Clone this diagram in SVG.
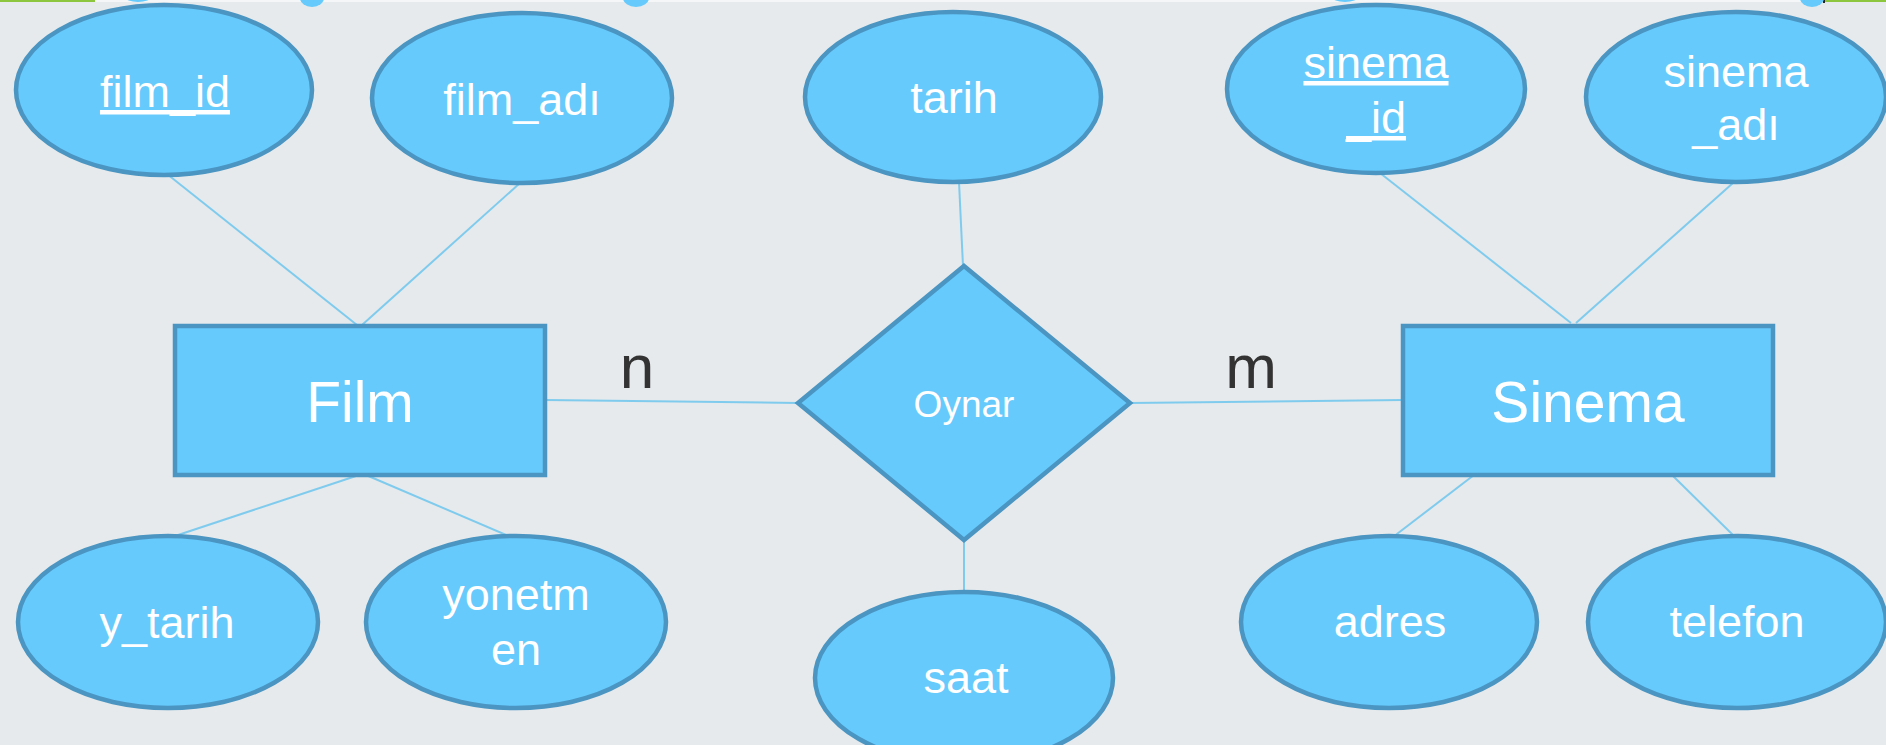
<svg xmlns="http://www.w3.org/2000/svg" width="1886" height="745" viewBox="0 0 1886 745">
  <style>
    .bg { fill: #E6EAEC; }
    .shape { fill: #66CAFC; stroke: #4A95C2; stroke-width: 4.5; }
    .blob { fill: #66CAFC; }
    .link { stroke: #7FCBEE; stroke-width: 2; fill: none; }
    .attr { font-family: "Liberation Sans", Arial, sans-serif; font-size: 45px; fill: #FFFFFF; text-anchor: middle; }
    .key { text-decoration: underline; }
    .entity { font-family: "Liberation Sans", Arial, sans-serif; font-size: 57px; fill: #FFFFFF; text-anchor: middle; }
    .rel { font-family: "Liberation Sans", Arial, sans-serif; font-size: 37px; fill: #FFFFFF; text-anchor: middle; }
    .card { font-family: "Liberation Sans", Arial, sans-serif; font-size: 62px; fill: #333333; text-anchor: middle; }
  </style>

  <!-- background -->
  <rect class="bg" x="0" y="0" width="1886" height="745"/>
  <rect x="0" y="0" width="1886" height="2" fill="#F4F6F7"/>
  <rect x="0" y="0" width="95" height="2" fill="#8CC63F"/>
  <rect x="1824" y="0" width="62" height="2" fill="#8CC63F"/>
  <rect x="1823" y="0" width="2" height="3" fill="#222222"/>

  <!-- shapes cut off at the top edge -->
  <g id="top-edge">
    <ellipse class="blob" cx="138" cy="-3" rx="13" ry="5"/>
    <ellipse class="blob" cx="312" cy="-2" rx="12" ry="9"/>
    <ellipse class="blob" cx="636" cy="-2" rx="13" ry="9"/>
    <ellipse class="blob" cx="1345" cy="-3" rx="13" ry="5"/>
    <ellipse class="blob" cx="1812" cy="-2" rx="12" ry="9"/>
  </g>

  <!-- connectors -->
  <g id="connectors">
    <line class="link" x1="167" y1="174" x2="357" y2="325"/>
    <line class="link" x1="520" y1="183" x2="362" y2="325"/>
    <line class="link" x1="359" y1="475" x2="172" y2="537"/>
    <line class="link" x1="366" y1="475" x2="511" y2="537"/>
    <line class="link" x1="959" y1="182" x2="963" y2="266"/>
    <line class="link" x1="964" y1="540" x2="964" y2="592"/>
    <line class="link" x1="545" y1="400" x2="798" y2="403"/>
    <line class="link" x1="1130" y1="403" x2="1403" y2="400"/>
    <line class="link" x1="1380" y1="173" x2="1571" y2="323"/>
    <line class="link" x1="1733" y1="183" x2="1576" y2="323"/>
    <line class="link" x1="1474" y1="475" x2="1393" y2="537"/>
    <line class="link" x1="1672" y1="475" x2="1735" y2="537"/>
  </g>

  <!-- cardinalities -->
  <text class="card" x="637" y="388">n</text>
  <text class="card" x="1251" y="388">m</text>

  <!-- Film entity and attributes -->
  <g id="film">
    <rect class="shape" x="175" y="326" width="370" height="149"/>
    <text class="entity" x="360" y="422">Film</text>
  </g>
  <g id="film_id">
    <ellipse class="shape" cx="164" cy="90" rx="148" ry="85"/>
    <text class="attr key" x="165" y="107">film_id</text>
  </g>
  <g id="film_adi">
    <ellipse class="shape" cx="522" cy="98" rx="150" ry="85"/>
    <text class="attr" x="522" y="115">film_adı</text>
  </g>
  <g id="y_tarih">
    <ellipse class="shape" cx="168" cy="622" rx="150" ry="86"/>
    <text class="attr" x="167" y="638">y_tarih</text>
  </g>
  <g id="yonetmen">
    <ellipse class="shape" cx="516" cy="622" rx="150" ry="86"/>
    <text class="attr" x="516" y="610">yonetm</text>
    <text class="attr" x="516" y="665">en</text>
  </g>

  <!-- Oynar relationship and attributes -->
  <g id="oynar">
    <polygon class="shape" points="964,266 1130,403 964,540 798,403"/>
    <text class="rel" x="964" y="417">Oynar</text>
  </g>
  <g id="tarih">
    <ellipse class="shape" cx="953" cy="97" rx="148" ry="85"/>
    <text class="attr" x="954" y="113">tarih</text>
  </g>
  <g id="saat">
    <ellipse class="shape" cx="964" cy="678" rx="149" ry="86"/>
    <text class="attr" x="966" y="693">saat</text>
  </g>

  <!-- Sinema entity and attributes -->
  <g id="sinema">
    <rect class="shape" x="1403" y="326" width="370" height="149"/>
    <text class="entity" x="1588" y="422">Sinema</text>
  </g>
  <g id="sinema_id">
    <ellipse class="shape" cx="1376" cy="89" rx="149" ry="84"/>
    <text class="attr key" x="1376" y="78">sinema</text>
    <text class="attr key" x="1376" y="133">_id</text>
  </g>
  <g id="sinema_adi">
    <ellipse class="shape" cx="1736" cy="97" rx="150" ry="85"/>
    <text class="attr" x="1736" y="87">sinema</text>
    <text class="attr" x="1736" y="140">_adı</text>
  </g>
  <g id="adres">
    <ellipse class="shape" cx="1389" cy="622" rx="148" ry="86"/>
    <text class="attr" x="1390" y="637">adres</text>
  </g>
  <g id="telefon">
    <ellipse class="shape" cx="1737" cy="622" rx="149" ry="86"/>
    <text class="attr" x="1737" y="637">telefon</text>
  </g>
</svg>
